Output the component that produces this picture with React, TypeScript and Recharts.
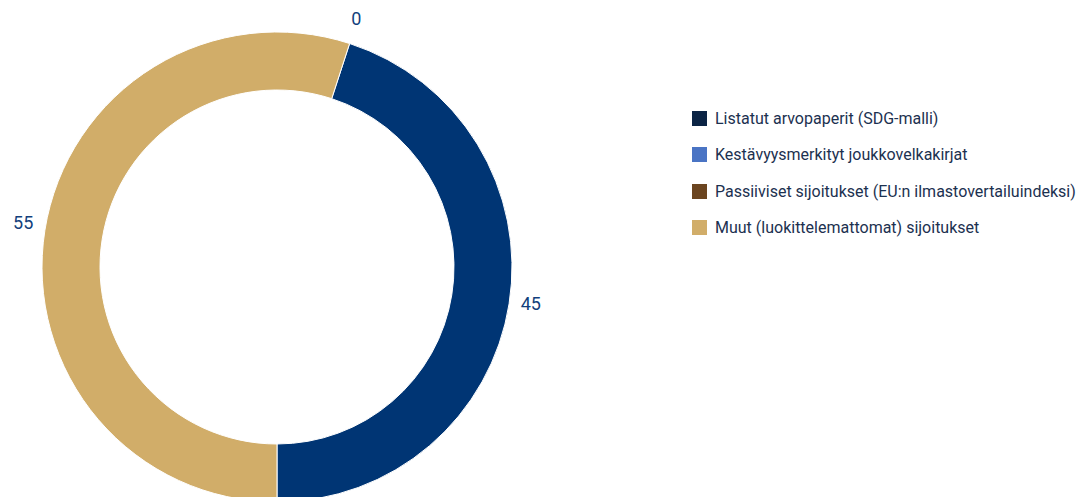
import React from 'react';
import { PieChart, Pie, Cell, Legend } from 'recharts';

const categories = [
  'Listatut arvopaperit (SDG-malli)',
  'Kestävyysmerkityt joukkovelkakirjat',
  'Passiiviset sijoitukset (EU:n ilmastovertailuindeksi)',
  'Muut (luokittelemattomat) sijoitukset',
];
const values = [45, 0, 0, 55];
const sliceColors = ['#003574', '#4a74c4', '#6b4520', '#d1ad69'];
const legendColors = ['#0b2445', '#4a74c4', '#6b4520', '#d1ad69'];

const data = categories.map((name, i) => ({ name, value: values[i] }));

const RADIAN = Math.PI / 180;

const renderLabel = (props: any) => {
  const { cx, cy, midAngle, outerRadius, value, index } = props;
  // zero slices sit on top of each other; draw only one "0"
  if (value === 0 && values[index + 1] === 0) return null;
  const r = outerRadius + 22;
  const x = cx + r * Math.cos(-midAngle * RADIAN);
  const y = cy + r * Math.sin(-midAngle * RADIAN) - 4;
  return (
    <text
      x={x}
      y={y}
      fill="#123f7c"
      fontSize={18}
      fontFamily="Roboto, sans-serif"
      textAnchor="middle"
      dominantBaseline="central"
    >
      {value}
    </text>
  );
};

const LegendContent = () => (
  <div style={{ fontFamily: 'Roboto, sans-serif', fontSize: 16, color: '#1c3150' }}>
    {categories.map((name, i) => (
      <div key={name} style={{ display: 'flex', alignItems: 'center', height: 36.5 }}>
        <span
          style={{
            display: 'inline-block',
            width: 15,
            height: 15,
            background: legendColors[i],
            marginRight: 8,
          }}
        />
        <span>{name}</span>
      </div>
    ))}
  </div>
);

export default function App() {
  return (
    <div style={{ position: 'absolute', left: 0, top: 0, background: '#fff' }}>
      <PieChart width={1079} height={497} margin={{ top: 0, right: 0, bottom: 0, left: 0 }}>
        <Pie
          data={data}
          dataKey="value"
          nameKey="name"
          cx={277}
          cy={267}
          innerRadius={177}
          outerRadius={235}
          startAngle={-90}
          endAngle={270}
          stroke="#ffffff"
          strokeWidth={1}
          label={renderLabel}
          labelLine={false}
          isAnimationActive={false}
        >
          {data.map((d, i) => (
            <Cell key={d.name} fill={sliceColors[i]} />
          ))}
        </Pie>
        <Legend
          layout="vertical"
          content={<LegendContent />}
          wrapperStyle={{ left: 692, top: 100, width: 387 }}
        />
      </PieChart>
    </div>
  );
}
